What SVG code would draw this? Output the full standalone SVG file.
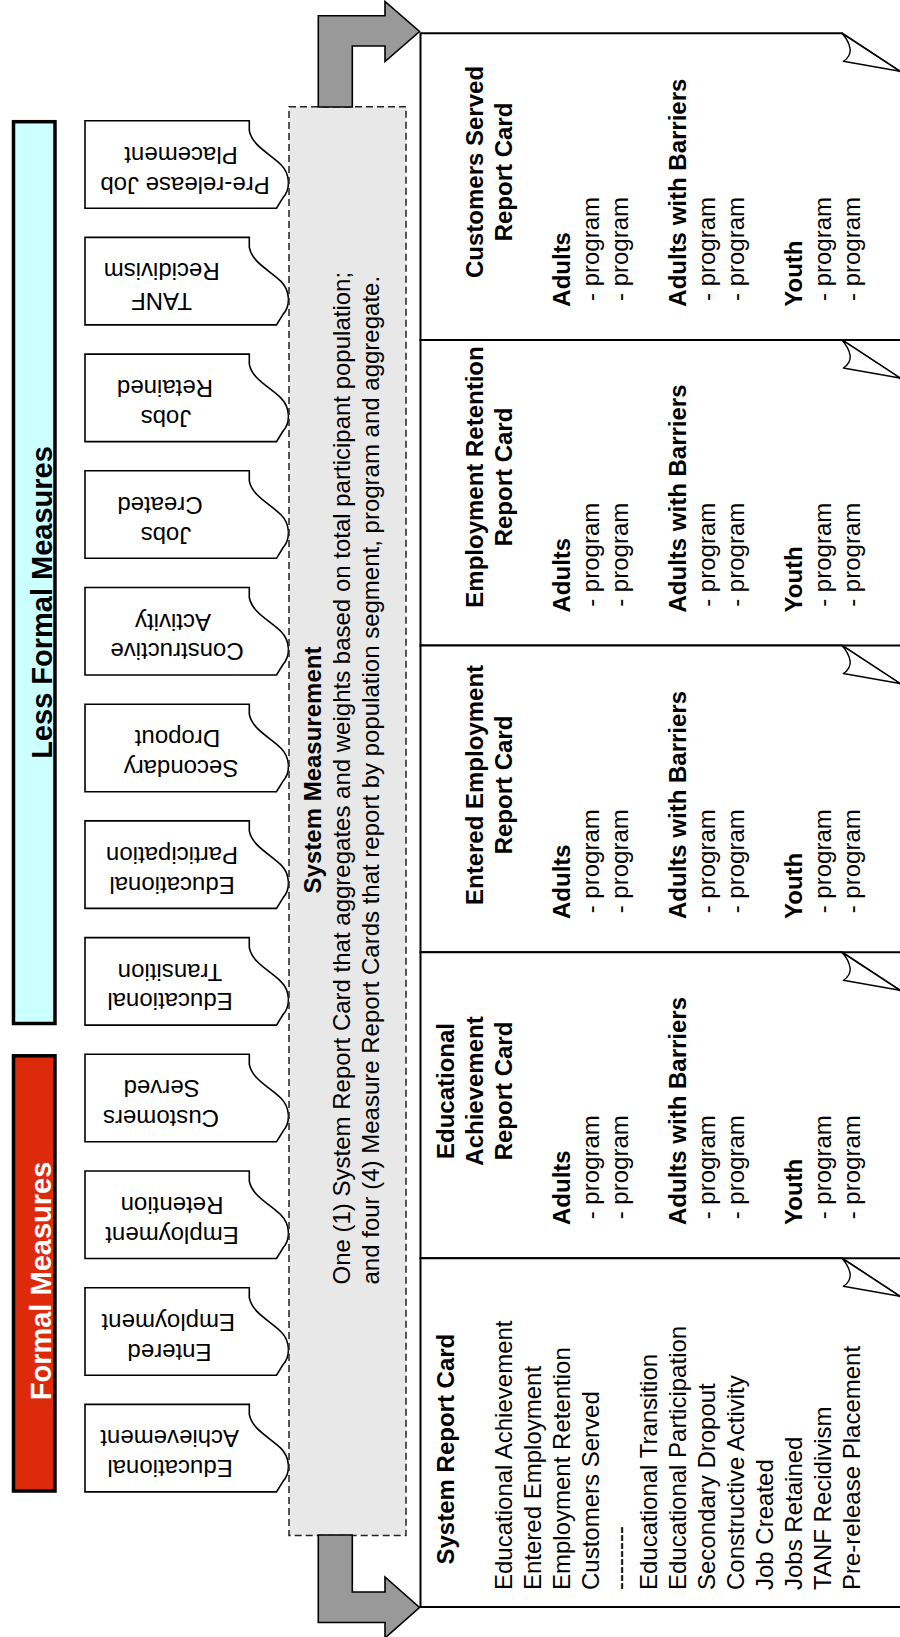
<svg xmlns="http://www.w3.org/2000/svg" width="900" height="1637" viewBox="0 0 900 1637">
<style>
.t{font-family:"Liberation Sans",Arial,sans-serif;font-size:24px;fill:#000}
.b{font-weight:bold}
.m{text-anchor:middle}
.big{font-size:29px;font-weight:bold}
.tab{fill:#fff;stroke:#000;stroke-width:1.6}
.card{fill:#fff;stroke:#000;stroke-width:2}
.flap{fill:#fff;stroke:#000;stroke-width:1.4;stroke-linejoin:round}
.arrow{fill:#999;stroke:#000;stroke-width:1.6}
</style>
<defs>
<path id="tabshape" d="M85,0 H249.3 V10 C252,25 270,33 281,44 C290,53 291,68 283,77 L276.5,87.5 H85 Z"/>
<path id="flapshape" d="M842,0 L900,38 L843.3,28 C848,25.5 851,20 850,15 C849,9 845.5,4 842,0 Z"/>
</defs>
<rect width="900" height="1637" fill="#fff"/>

<g id="less-formal-bar">
<rect x="13.5" y="121.7" width="41.5" height="901.8" fill="#ccffff" stroke="#000" stroke-width="3.5"/>
<text class="t big m" transform="rotate(-90)" x="-602.5" y="51.5">Less Formal Measures</text>
</g>
<g id="formal-bar">
<rect x="13.5" y="1055.8" width="41.5" height="435.2" fill="#dc2a0a" stroke="#000" stroke-width="3.5"/>
<text class="t big m" transform="rotate(-90)" x="-1281" y="51" style="fill:#fff">Formal Measures</text>
</g>

<g id="tab-prerelease"><use href="#tabshape" class="tab" y="120.7"/><g transform="rotate(180)"><text class="t m" x="-185" y="-176.5">Pre-release Job</text><text class="t m" x="-181" y="-146.7">Placement</text></g></g>
<g id="tab-tanf"><use href="#tabshape" class="tab" y="237.4"/><g transform="rotate(180)"><text class="t m" x="-161.5" y="-293.2">TANF</text><text class="t m" x="-161.7" y="-263.4">Recidivism</text></g></g>
<g id="tab-jobs-retained"><use href="#tabshape" class="tab" y="354.1"/><g transform="rotate(180)"><text class="t m" x="-166" y="-409.9">Jobs</text><text class="t m" x="-165" y="-380.1">Retained</text></g></g>
<g id="tab-jobs-created"><use href="#tabshape" class="tab" y="470.8"/><g transform="rotate(180)"><text class="t m" x="-166" y="-526.6">Jobs</text><text class="t m" x="-160" y="-496.8">Created</text></g></g>
<g id="tab-constructive"><use href="#tabshape" class="tab" y="587.5"/><g transform="rotate(180)"><text class="t m" x="-177" y="-643.3">Constructive</text><text class="t m" x="-173" y="-613.5">Activity</text></g></g>
<g id="tab-secondary"><use href="#tabshape" class="tab" y="704.2"/><g transform="rotate(180)"><text class="t m" x="-181" y="-760">Secondary</text><text class="t m" x="-177.5" y="-730.2">Dropout</text></g></g>
<g id="tab-ed-participation"><use href="#tabshape" class="tab" y="820.9"/><g transform="rotate(180)"><text class="t m" x="-172" y="-876.7">Educational</text><text class="t m" x="-172" y="-846.9">Participation</text></g></g>
<g id="tab-ed-transition"><use href="#tabshape" class="tab" y="937.6"/><g transform="rotate(180)"><text class="t m" x="-170" y="-993.4">Educational</text><text class="t m" x="-170" y="-963.6">Transition</text></g></g>
<g id="tab-customers"><use href="#tabshape" class="tab" y="1054.3"/><g transform="rotate(180)"><text class="t m" x="-161" y="-1110.1">Customers</text><text class="t m" x="-161.7" y="-1080.3">Served</text></g></g>
<g id="tab-emp-retention"><use href="#tabshape" class="tab" y="1171"/><g transform="rotate(180)"><text class="t m" x="-172" y="-1226.8">Employment</text><text class="t m" x="-172" y="-1197">Retention</text></g></g>
<g id="tab-entered-emp"><use href="#tabshape" class="tab" y="1287.7"/><g transform="rotate(180)"><text class="t m" x="-169.5" y="-1343.5">Entered</text><text class="t m" x="-168.3" y="-1313.7">Employment</text></g></g>
<g id="tab-ed-achievement"><use href="#tabshape" class="tab" y="1404.4"/><g transform="rotate(180)"><text class="t m" x="-170" y="-1460.2">Educational</text><text class="t m" x="-169.7" y="-1430.4">Achievement</text></g></g>

<g id="system-measurement">
<rect x="289" y="106.7" width="117" height="1428.7" fill="#e8e8e8" stroke="#222" stroke-width="1.5" stroke-dasharray="7 4"/>
<g transform="rotate(-90)">
<text class="t b m" x="-770" y="321.3">System Measurement</text>
<text class="t" x="-1284.5" y="350">One (1) System Report Card that aggregates and weights based on total participant population;</text>
<text class="t" x="-1284.5" y="379">and four (4) Measure Report Cards that report by population segment, program and aggregate.</text>
</g>
</g>

<g id="card-customers">
<path class="card" d="M420.5,33.3 H842 L910,78 V340 H420.5 Z"/>
<use href="#flapshape" class="flap" y="33.3"/>
<g transform="rotate(-90)">
<text class="t b m" x="-172" y="482.5">Customers Served</text>
<text class="t b m" x="-172" y="511.5">Report Card</text>
<text class="t b" x="-306.7" y="569.5">Adults</text>
<text class="t" x="-301" y="598.5">- program</text>
<text class="t" x="-301" y="627.5">- program</text>
<text class="t b" x="-306.7" y="685.5">Adults with Barriers</text>
<text class="t" x="-301" y="714.5">- program</text>
<text class="t" x="-301" y="743.5">- program</text>
<text class="t b" x="-306.7" y="801.5">Youth</text>
<text class="t" x="-301" y="830.5">- program</text>
<text class="t" x="-301" y="859.5">- program</text>
</g>
</g>

<g id="card-emp-retention">
<path class="card" d="M420.5,340 H842 L910,384.7 V645.5 H420.5 Z"/>
<use href="#flapshape" class="flap" y="340"/>
<g transform="rotate(-90)">
<text class="t b m" x="-477" y="482.5">Employment Retention</text>
<text class="t b m" x="-477" y="511.5">Report Card</text>
<text class="t b" x="-612.5" y="569.5">Adults</text>
<text class="t" x="-606.8" y="598.5">- program</text>
<text class="t" x="-606.8" y="627.5">- program</text>
<text class="t b" x="-612.5" y="685.5">Adults with Barriers</text>
<text class="t" x="-606.8" y="714.5">- program</text>
<text class="t" x="-606.8" y="743.5">- program</text>
<text class="t b" x="-612.5" y="801.5">Youth</text>
<text class="t" x="-606.8" y="830.5">- program</text>
<text class="t" x="-606.8" y="859.5">- program</text>
</g>
</g>

<g id="card-entered-emp">
<path class="card" d="M420.5,645.5 H842 L910,690.2 V952.3 H420.5 Z"/>
<use href="#flapshape" class="flap" y="645.5"/>
<g transform="rotate(-90)">
<text class="t b m" x="-785" y="482.5">Entered Employment</text>
<text class="t b m" x="-785" y="511.5">Report Card</text>
<text class="t b" x="-919" y="569.5">Adults</text>
<text class="t" x="-913.3" y="598.5">- program</text>
<text class="t" x="-913.3" y="627.5">- program</text>
<text class="t b" x="-919" y="685.5">Adults with Barriers</text>
<text class="t" x="-913.3" y="714.5">- program</text>
<text class="t" x="-913.3" y="743.5">- program</text>
<text class="t b" x="-919" y="801.5">Youth</text>
<text class="t" x="-913.3" y="830.5">- program</text>
<text class="t" x="-913.3" y="859.5">- program</text>
</g>
</g>

<g id="card-ed-achievement">
<path class="card" d="M420.5,952.3 H842 L910,997 V1258.3 H420.5 Z"/>
<use href="#flapshape" class="flap" y="952.3"/>
<g transform="rotate(-90)">
<text class="t b m" x="-1091" y="453.5">Educational</text>
<text class="t b m" x="-1091" y="482.5">Achievement</text>
<text class="t b m" x="-1091" y="511.5">Report Card</text>
<text class="t b" x="-1225" y="569.5">Adults</text>
<text class="t" x="-1219.3" y="598.5">- program</text>
<text class="t" x="-1219.3" y="627.5">- program</text>
<text class="t b" x="-1225" y="685.5">Adults with Barriers</text>
<text class="t" x="-1219.3" y="714.5">- program</text>
<text class="t" x="-1219.3" y="743.5">- program</text>
<text class="t b" x="-1225" y="801.5">Youth</text>
<text class="t" x="-1219.3" y="830.5">- program</text>
<text class="t" x="-1219.3" y="859.5">- program</text>
</g>
</g>

<g id="card-system">
<path class="card" d="M420.5,1258.3 H842 L910,1303 V1607 H420.5 Z"/>
<use href="#flapshape" class="flap" y="1258.3"/>
<g transform="rotate(-90)">
<text class="t b" x="-1564.5" y="453.5">System Report Card</text>
<text class="t" x="-1590" y="511.5">Educational Achievement</text>
<text class="t" x="-1590" y="540.5">Entered Employment</text>
<text class="t" x="-1590" y="569.5">Employment Retention</text>
<text class="t" x="-1590" y="598.5">Customers Served</text>
<text class="t" x="-1590" y="627.5">--------</text>
<text class="t" x="-1590" y="656.5">Educational Transition</text>
<text class="t" x="-1590" y="685.5">Educational Participation</text>
<text class="t" x="-1590" y="714.5">Secondary Dropout</text>
<text class="t" x="-1590" y="743.5">Constructive Activity</text>
<text class="t" x="-1590" y="772.5">Job Created</text>
<text class="t" x="-1590" y="801.5">Jobs Retained</text>
<text class="t" x="-1590" y="830.5">TANF Recidivism</text>
<text class="t" x="-1590" y="859.5">Pre-release Placement</text>
</g>
</g>

<g id="connectors">
<path class="arrow" d="M318.3,107 V15.7 H385 V1.5 L419.5,31.5 L385,61.5 V46 H352.3 V107 Z"/>
<path class="arrow" d="M318.3,1535 V1622.5 H385 V1638 L419.5,1607.5 L385,1577 V1592 H352.3 V1535 Z"/>
</g>
</svg>
